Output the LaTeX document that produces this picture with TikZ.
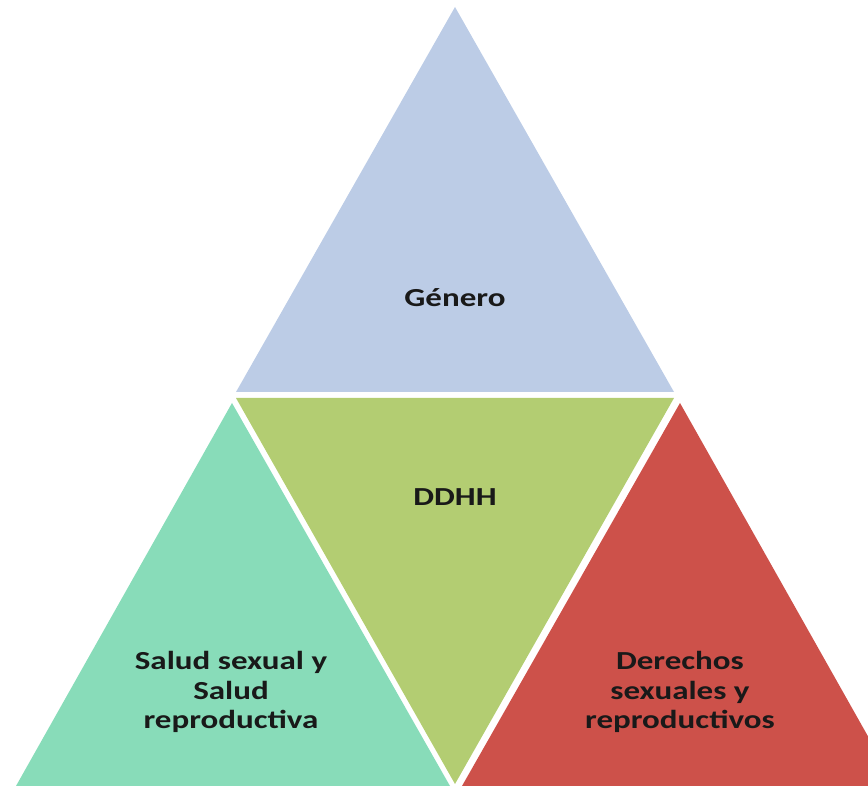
\documentclass[tikz,border=0pt]{standalone}
\usepackage{fontspec}
\setmainfont{Carlito}
\newfontfamily\lblfont[FakeStretch=1.27]{Carlito}
\definecolor{generoblue}{RGB}{188,204,230}
\definecolor{ddhhgreen}{RGB}{179,205,114}
\definecolor{saludmint}{RGB}{136,220,185}
\definecolor{derechosred}{RGB}{205,81,74}

\begin{document}
\begin{tikzpicture}[x=1pt, y=-1pt, lbl/.style={font=\lblfont\bfseries\fontsize{26}{29.5}\selectfont, align=center, text=black!90}]
  \useasboundingbox (0,0) rectangle (868,786);
  \clip (0,0) rectangle (868,786);
  % the four triangles
  \fill[generoblue] (455,7) -- (674,392) -- (236,392) -- cycle;
  \fill[ddhhgreen] (236,398) -- (674,398) -- (455,784) -- cycle;
  \fill[saludmint] (232,403) -- (450,786) -- (16,786) -- cycle;
  \fill[derechosred] (680,403) -- (896,786) -- (462,786) -- cycle;
  % labels
  \node[lbl] (genero) at (455,298) {Género};
  \node[lbl] (ddhh) at (455,497) {DDHH};
  \node[lbl] (salud) at (231,692) {Salud sexual y\\Salud\\reproductiva};
  \node[lbl] (derechos) at (680,692) {Derechos\\sexuales y\\reproductivos};
\end{tikzpicture}
\end{document}
